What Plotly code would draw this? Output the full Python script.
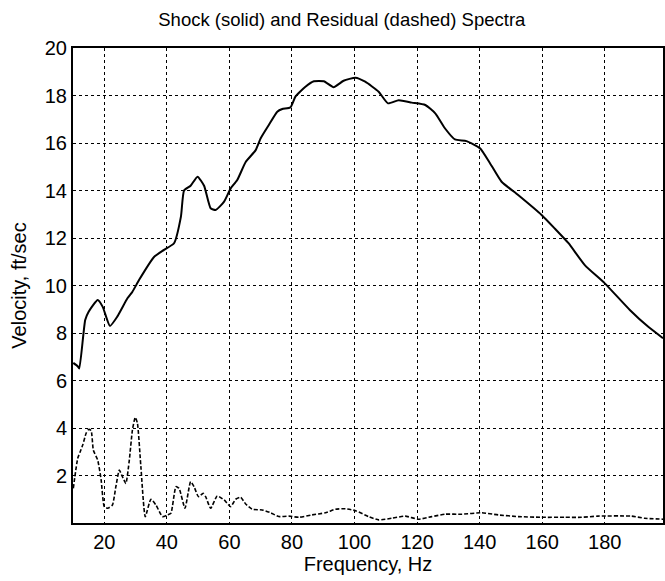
import plotly.graph_objects as go

# shock spectrum (solid)
shock_freq = [10.1, 11.5, 12.0, 13.9, 15.0, 17.9, 19.5, 21.8, 24.2, 27.4, 29.0, 31.2,
              35.9, 39.1, 42.3, 44.5, 45.5, 47.6, 49.8, 51.9, 54.0, 55.6, 58.3, 60.4,
              62.5, 65.2, 68.4, 70.0, 72.6, 75.3, 76.9, 79.5, 81.1, 84.3, 87.0, 90.2,
              93.3, 96.5, 100.3, 103.4, 107.7, 110.7, 114.1, 118.3, 122.6, 125.8, 129.0,
              132.1, 135.8, 140.1, 143.3, 147.0, 152.3, 159.8, 164.0, 168.4, 173.6,
              180.0, 188.0, 193.8, 198.6]
shock_vel = [6.74, 6.6, 6.5, 8.55, 8.9, 9.39, 9.1, 8.3, 8.7, 9.46, 9.74, 10.25,
             11.2, 11.5, 11.78, 12.9, 14.0, 14.2, 14.58, 14.2, 13.25, 13.18, 13.53, 14.09,
             14.44, 15.2, 15.7, 16.2, 16.76, 17.32, 17.43, 17.5, 17.95, 18.37, 18.6, 18.6,
             18.35, 18.62, 18.75, 18.58, 18.16, 17.67, 17.8, 17.7, 17.6, 17.25, 16.6,
             16.15, 16.08, 15.78, 15.15, 14.37, 13.81, 12.97, 12.4, 11.78, 10.86,
             10.09, 8.97, 8.27, 7.78]

# residual spectrum (dashed)
resid_freq = [10.1, 11.5, 12.3, 13.1, 14.2, 15.0, 15.8, 16.5, 17.9, 19.0, 20.0, 21.1,
              22.6, 23.7, 24.8, 25.8, 26.9, 28.0, 29.0, 29.9, 30.6, 31.7, 33.1, 34.9,
              36.5, 38.6, 40.2, 41.3, 42.9, 43.9, 45.8, 47.6, 48.7, 50.1, 51.6, 52.4,
              54.0, 56.1, 58.3, 60.4, 62.0, 63.6, 65.2, 67.3, 70.5, 73.2, 75.8, 79.0,
              82.2, 86.4, 90.7, 93.9, 97.1, 100.3, 104.5, 107.7, 111.9, 116.2, 120.4,
              124.7, 129.0, 134.3, 140.6, 146.0, 152.3, 159.8, 167.2, 172.5, 177.8,
              188.5, 192.7, 198.6]
resid_vel = [1.46, 2.72, 3.0, 3.28, 3.78, 3.94, 3.89, 3.07, 2.65, 1.81, 0.69, 0.62,
             0.76, 1.53, 2.23, 1.95, 1.67, 2.65, 3.92, 4.45, 4.2, 2.37, 0.27, 1.0,
             0.76, 0.27, 0.34, 0.41, 1.53, 1.46, 0.62, 1.74, 1.53, 1.11, 1.25, 1.11,
             0.62, 1.14, 0.97, 0.69, 1.0, 1.08, 0.8, 0.58, 0.55, 0.43, 0.27, 0.29,
             0.24, 0.34, 0.43, 0.58, 0.6, 0.52, 0.27, 0.13, 0.2, 0.29, 0.16,
             0.27, 0.37, 0.37, 0.43, 0.34, 0.27, 0.24, 0.24, 0.24, 0.29,
             0.29, 0.2, 0.16]

x_ticks = [20, 40, 60, 80, 100, 120, 140, 160, 180]
y_ticks = [2, 4, 6, 8, 10, 12, 14, 16, 18, 20]

font = "Liberation Sans, Arial, sans-serif"

fig = go.Figure()
fig.add_trace(go.Scatter(x=shock_freq, y=shock_vel, mode="lines",
                         line=dict(color="black", width=2, shape="spline", smoothing=0.5)))
fig.add_trace(go.Scatter(x=resid_freq, y=resid_vel, mode="lines",
                         line=dict(color="black", width=1.6, dash="4px,2px",
                                   shape="spline", smoothing=0.5)))

axis_common = dict(
    showgrid=True, gridcolor="black", gridwidth=1, griddash="dot",
    showline=True, linecolor="black", linewidth=2, mirror=True,
    zeroline=False, ticks="", tickfont=dict(family=font, size=20, color="black"),
)

fig.update_layout(
    width=665, height=581,
    margin=dict(l=73, r=0, t=48, b=58),
    paper_bgcolor="white", plot_bgcolor="white",
    showlegend=False,
    title=dict(text="Shock (solid) and Residual (dashed) Spectra",
               x=0.514, xanchor="center", y=0.966, yanchor="middle",
               font=dict(family=font, size=18.5, color="black")),
    xaxis=dict(range=[10, 198.6], tickvals=x_ticks,
               title=dict(text="Frequency, Hz", standoff=4,
                          font=dict(family=font, size=20, color="black")),
               **axis_common),
    yaxis=dict(range=[0, 20], tickvals=y_ticks,
               title=dict(text="Velocity, ft/sec", standoff=13,
                          font=dict(family=font, size=20, color="black")),
               **axis_common),
)

# page body margin off so the figure sits at the window origin
fig.write_html("out.html", config={"displayModeBar": False},
               post_script="document.body.style.margin='0';")
